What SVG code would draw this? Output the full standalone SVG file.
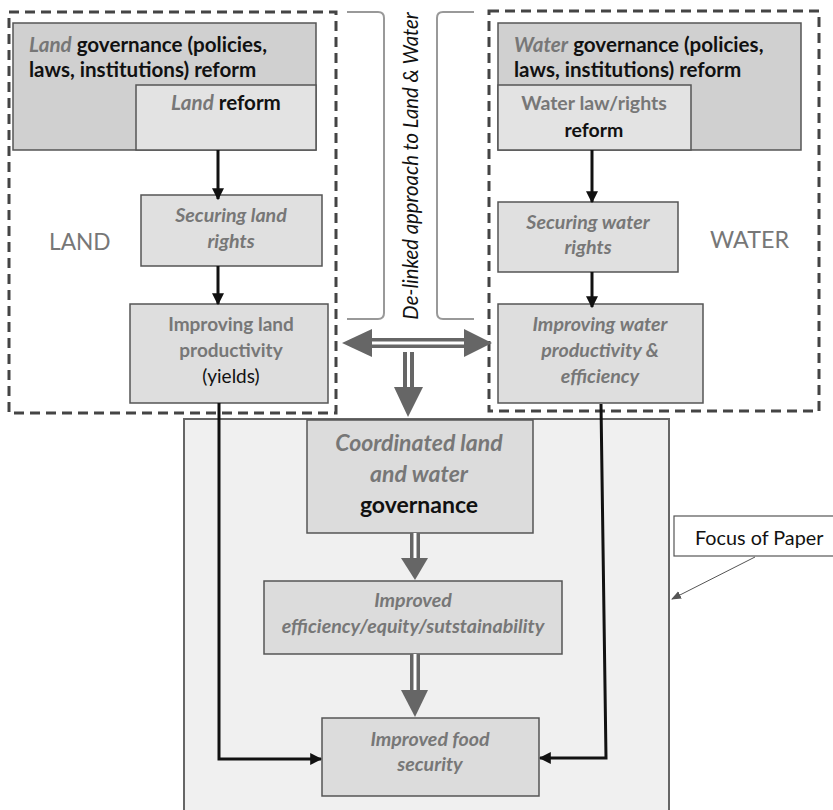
<svg xmlns="http://www.w3.org/2000/svg" width="833" height="810" viewBox="0 0 833 810">
<style>
text{font-family:Lato,"Open Sans","Liberation Sans",sans-serif;}
.b{font-weight:bold;}
.i{font-style:italic;}
.g{fill:#777;}
.k{fill:#111;}
.box{stroke:#555;stroke-width:1.5;}
.dash{fill:none;stroke:#444;stroke-width:3;stroke-dasharray:10 6;}
.brk{fill:none;stroke:#999;stroke-width:2;}
.blk{fill:none;stroke:#111;stroke-width:3;}
.gr{fill:#666;}
.m{text-anchor:middle;}
</style>
<defs>
<marker id="ah" viewBox="0 0 10 10" refX="9" refY="5" markerWidth="4" markerHeight="4" orient="auto" markerUnits="strokeWidth">
<path d="M0,0 L10,5 L0,10 z" fill="#111"/>
</marker>
<marker id="ah2" viewBox="0 0 10 10" refX="9" refY="5" markerWidth="10" markerHeight="10" orient="auto" markerUnits="userSpaceOnUse">
<path d="M0,1 L10,5 L0,9 z" fill="#555"/>
</marker>
</defs>
<rect width="833" height="810" fill="#fff"/>

<g id="focus">
<rect x="184" y="419" width="485" height="400" fill="#f0f0f0" stroke="#666" stroke-width="2"/>
</g>

<g id="land-group">
<rect x="9" y="12" width="327" height="401" class="dash"/>
<text x="49" y="250" font-size="22.7" class="g">LAND</text>
</g>
<g id="water-group">
<rect x="489" y="11" width="330" height="400" class="dash"/>
<text x="710" y="248" font-size="23.3" class="g">WATER</text>
</g>

<g id="land-gov">
<rect x="13" y="23" width="303" height="127" fill="#d0d0d0" class="box"/>
<text x="29" y="52" font-size="20.6" class="b k"><tspan class="i g">Land</tspan> governance (policies,</text>
<text x="29" y="77" font-size="20.6" class="b k">laws, institutions) reform</text>
</g>
<g id="land-reform">
<rect x="136" y="85" width="180" height="65" fill="#e3e3e3" class="box"/>
<text x="226" y="110" font-size="20.6" class="b k m"><tspan class="i g">Land</tspan> reform</text>
</g>
<g id="land-rights">
<rect x="141" y="195" width="181" height="71" fill="#e0e0e0" class="box"/>
<text x="231" y="222" font-size="19.6" class="b i g m">Securing land</text>
<text x="231" y="248" font-size="19.6" class="b i g m">rights</text>
</g>
<g id="land-prod">
<rect x="130" y="304" width="198" height="99" fill="#dedede" class="box"/>
<text x="231" y="331" font-size="19" class="b g m">Improving land</text>
<text x="231" y="357" font-size="19" class="b g m">productivity</text>
<text x="231" y="383" font-size="19" class="k m">(yields)</text>
</g>

<g id="water-gov">
<rect x="498" y="23" width="303" height="127" fill="#d0d0d0" class="box"/>
<text x="514" y="52" font-size="20.6" class="b k"><tspan class="i g">Water</tspan> governance (policies,</text>
<text x="514" y="77" font-size="20.6" class="b k">laws, institutions) reform</text>
</g>
<g id="water-reform">
<rect x="498" y="85" width="193" height="65" fill="#e3e3e3" class="box"/>
<text x="594" y="110" font-size="19.5" class="b g m">Water law/rights</text>
<text x="594" y="137" font-size="19.5" class="b k m">reform</text>
</g>
<g id="water-rights">
<rect x="498" y="202" width="180" height="70" fill="#e0e0e0" class="box"/>
<text x="588" y="229" font-size="19.6" class="b i g m">Securing water</text>
<text x="588" y="254" font-size="19.6" class="b i g m">rights</text>
</g>
<g id="water-prod">
<rect x="498" y="304" width="205" height="99" fill="#dedede" class="box"/>
<text x="600" y="331" font-size="19.6" class="b i g m">Improving water</text>
<text x="600" y="357" font-size="19.6" class="b i g m">productivity &amp;</text>
<text x="600" y="383" font-size="19.6" class="b i g m">efficiency</text>
</g>

<g id="delinked">
<path d="M347,12 H378 Q384,12 384,18 V313 Q384,319 378,319 H347" class="brk"/>
<path d="M474,12 H443 Q437,12 437,18 V313 Q437,319 443,319 H474" class="brk"/>
<text transform="translate(418,166) rotate(-90)" font-size="20.3" class="i m" fill="#111">De-linked approach to Land &amp; Water</text>
</g>

<g id="coord">
<rect x="307" y="420" width="226" height="113" fill="#dcdcdc" class="box"/>
<text x="419" y="451" font-size="23" class="b i g m">Coordinated land</text>
<text x="419" y="482" font-size="23" class="b i g m">and water</text>
<text x="419" y="513" font-size="23" class="b k m">governance</text>
</g>
<g id="improved">
<rect x="264" y="581" width="298" height="73" fill="#dcdcdc" class="box"/>
<text x="413" y="607" font-size="19.6" class="b i g m">Improved</text>
<text x="413" y="633" font-size="19.6" class="b i g m">efficiency/equity/sutstainability</text>
</g>
<g id="food">
<rect x="322" y="718" width="217" height="78" fill="#dcdcdc" class="box"/>
<text x="430" y="746" font-size="19.6" class="b i g m">Improved food</text>
<text x="430" y="771" font-size="19.6" class="b i g m">security</text>
</g>

<g id="callout">
<rect x="674" y="516" width="170" height="40" fill="#fff" stroke="#555" stroke-width="1.2"/>
<text x="695" y="545" font-size="19.8" class="k">Focus of Paper</text>
</g>

<g id="connectors">
<line x1="218" y1="150" x2="218" y2="199" class="blk" marker-end="url(#ah)"/>
<line x1="218" y1="266" x2="218" y2="304" class="blk" marker-end="url(#ah)"/>
<line x1="592" y1="150" x2="592" y2="202" class="blk" marker-end="url(#ah)"/>
<line x1="592" y1="272" x2="592" y2="307" class="blk" marker-end="url(#ah)"/>
<path d="M219,403 V759 H321" class="blk" marker-end="url(#ah)"/>
<path d="M601,404 L606,758 H540" class="blk" marker-end="url(#ah)"/>
<line x1="755" y1="557" x2="672" y2="599" stroke="#555" stroke-width="1" marker-end="url(#ah2)"/>
<rect x="370" y="338" width="96" height="10" class="gr"/>
<rect x="370" y="341.5" width="96" height="3" fill="#fff"/>
<polygon points="342,343 372,329 372,357" class="gr"/>
<polygon points="492,343 464,329 464,357" class="gr"/>
<rect x="403" y="352" width="11" height="37" class="gr"/>
<rect x="407" y="352" width="3" height="37" fill="#fff"/>
<polygon points="394,387 423,387 408,417" class="gr"/>
<rect x="410" y="533" width="10" height="27" class="gr"/>
<rect x="413.5" y="533" width="3" height="27" fill="#fff"/>
<polygon points="401,558 428,558 415,580" class="gr"/>
<rect x="410" y="654" width="10" height="38" class="gr"/>
<rect x="413.5" y="654" width="3" height="38" fill="#fff"/>
<polygon points="401,690 428,690 415,717" class="gr"/>
</g>
</svg>
